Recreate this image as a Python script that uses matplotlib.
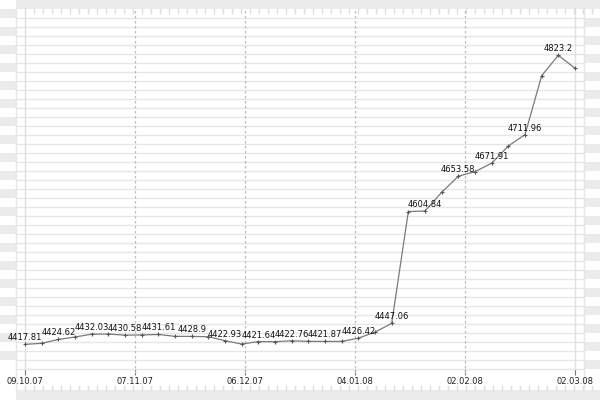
import matplotlib
matplotlib.use('Agg')
import matplotlib.pyplot as plt
import matplotlib.dates as mdates
from matplotlib.patches import Rectangle
import numpy as np
import pandas as pd

# values (even points carry a label)
values = [4417.81, 4419.2, 4424.62, 4428.1, 4432.03, 4432.3, 4430.58, 4431.0,
          4431.61, 4429.0, 4428.9, 4428.5, 4422.93, 4418.2, 4421.64, 4421.5,
          4422.76, 4422.0, 4421.87, 4421.9, 4426.42, 4435.0, 4447.06, 4604.0,
          4604.84, 4631.0, 4653.58, 4660.0, 4671.91, 4696.0, 4711.96, 4794.6,
          4823.2, 4805.0]
start_date = '2007-10-09'
end_date = '2008-03-02'
tick_dates = ['2007-10-09', '2007-11-07', '2007-12-06', '2008-01-04', '2008-02-02', '2008-03-02']
tick_labels = ['09.10.07', '07.11.07', '06.12.07', '04.01.08', '02.02.08', '02.03.08']
y_range = (4383.2, 4875.1)

dates = pd.date_range(start_date, end_date, periods=len(values))
ticks = pd.to_datetime(tick_dates)

BAND = '#ebebeb'
GRID = '#e6e6e6'

fig = plt.figure(figsize=(6, 4), dpi=100)

# graph-paper decoration, drawn in pixel coordinates
bg = fig.add_axes([0, 0, 1, 1])
bg.set_xlim(0, 600)
bg.set_ylim(400, 0)
bg.axis('off')
bg.add_patch(Rectangle((16, 0), 584, 9, color=BAND, lw=0))
bg.add_patch(Rectangle((16, 390), 584, 10, color=BAND, lw=0))
for y0 in np.arange(9, 360, 18):
    bg.add_patch(Rectangle((0, y0), 16, 9, color=BAND, lw=0))
for y0 in np.arange(18, 369, 18):
    bg.add_patch(Rectangle((584, y0), 16, 9, color=BAND, lw=0))
for y in np.arange(18.3, 370, 9):
    bg.plot([16, 584], [y, y], color=GRID, lw=1)
bg.plot([16, 16], [9, 390], color=GRID, lw=1)
bg.plot([584, 584], [9, 390], color=GRID, lw=1)
for x in np.arange(25, 600, 9):
    bg.plot([x, x], [9, 13], color='#dddddd', lw=1)
    bg.plot([x, x], [386, 390], color='#dddddd', lw=1)

ax = fig.add_axes([25 / 600, (400 - 369) / 400, 550 / 600, (369 - 18.3) / 400])
ax.patch.set_alpha(0)
ax.set_xlim(dates[0], dates[-1])
ax.set_ylim(*y_range)

for t in ticks[1:-1]:
    ax.axvline(t, ymin=-0.012, ymax=1.03, color='#bdbdbd', lw=0.9,
               linestyle=(0, (2, 2)), clip_on=False)
for t in [ticks[0], ticks[-1]]:
    ax.axvline(t, ymin=0, ymax=1.03, color='#e0e0e0', lw=1, clip_on=False)

ax.plot(dates, values, color='#7a7a7a', lw=0.9, marker='+', markersize=3,
        mew=0.8, mec='#555555', clip_on=False)

for i in range(0, len(values), 2):
    ax.annotate(str(values[i]), (dates[i], values[i]), xytext=(0, 1.5),
                textcoords='offset points', ha='center', va='bottom',
                fontsize=6, color='#111111')

ax.set_xticks(ticks)
ax.set_xticklabels(tick_labels)
ax.tick_params(axis='x', length=4, color='#777777', labelsize=6, pad=2,
               labelcolor='#222222')
ax.set_yticks([])
for s in ['top', 'left', 'right']:
    ax.spines[s].set_visible(False)
ax.spines['bottom'].set_color(GRID)

fig.savefig('out.png', dpi=100)
